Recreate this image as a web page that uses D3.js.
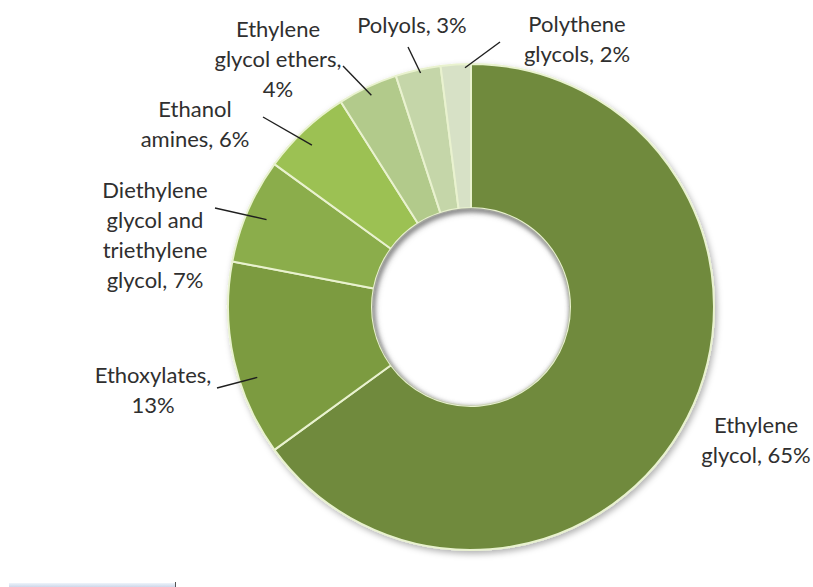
<!DOCTYPE html>
<html>
<head>
<meta charset="utf-8">
<script src="https://cdn.jsdelivr.net/npm/d3@7"></script>
<style>
  html, body { margin: 0; padding: 0; background: #ffffff; }
  svg { display: block; }
  .lbl { font-family: Lato, "Open Sans", sans-serif; font-size: 22px; fill: #2f2f2f; }
</style>
</head>
<body>
<svg id="chart" width="813" height="587"></svg>
<script>
// Ethylene oxide end uses, share of demand (%)
const categories = [
  "Ethylene glycol",
  "Ethoxylates",
  "Diethylene glycol and triethylene glycol",
  "Ethanol amines",
  "Ethylene glycol ethers",
  "Polyols",
  "Polythene glycols"
];
const shares = [65, 13, 7, 6, 4, 3, 2];
const labelLines = [
  ["Ethylene", "glycol, 65%"],
  ["Ethoxylates,", "13%"],
  ["Diethylene", "glycol and", "triethylene", "glycol, 7%"],
  ["Ethanol", "amines, 6%"],
  ["Ethylene", "glycol ethers,", "4%"],
  ["Polyols, 3%"],
  ["Polythene", "glycols, 2%"]
];

// palette: darkest for the biggest slice, lighter going counter-clockwise
const palette = ["#6f8a3d", "#7c9b40", "#8bad4b", "#9cc152", "#b2ca8b", "#c5d6a9", "#d7e1c6"];

// label layout: anchor (centre x, first baseline), leader start, and where
// the leader meets the slice (fraction across the slice, fraction of radius)
const labelLayout = [
  { x: 756, y: 433, lead: null },
  { x: 153, y: 383, lead: [217, 388], t: 0.38, rf: 0.926 },
  { x: 155, y: 198, lead: [215, 208], t: 0.49, rf: 0.915 },
  { x: 195, y: 117, lead: [263, 117], t: 0.44, rf: 0.934 },
  { x: 278, y: 37,  lead: [343, 66],  t: 0.50, rf: 0.963 },
  { x: 412, y: 33,  lead: [408, 47],  t: 0.54, rf: 0.985 },
  { x: 577, y: 32,  lead: [500, 42],  t: 0.80, rf: 0.985 }
];
const lineGap = 30;

const svg = d3.select("#chart");
const cx = 471, cy = 307, R = 243, r0 = 99;

const defs = svg.append("defs");
const shadow = defs.append("filter").attr("id", "shadow")
  .attr("x", "-10%").attr("y", "-10%").attr("width", "125%").attr("height", "125%");
shadow.append("feDropShadow")
  .attr("dx", 2).attr("dy", 3).attr("stdDeviation", 3)
  .attr("flood-color", "#000").attr("flood-opacity", 0.3);

const soft = defs.append("filter").attr("id", "soft");
soft.append("feGaussianBlur").attr("stdDeviation", 2);

defs.append("clipPath").attr("id", "hole")
  .append("circle").attr("cx", cx).attr("cy", cy).attr("r", r0);

const pie = d3.pie().sort(null).value(d => d);
const arcs = pie(shares);
const arc = d3.arc().innerRadius(r0).outerRadius(R);
const color = d3.scaleOrdinal().domain(categories).range(palette);

const g = svg.append("g").attr("transform", `translate(${cx},${cy})`);

g.append("g").attr("filter", "url(#shadow)")
  .selectAll("path")
  .data(arcs)
  .join("path")
  .attr("d", arc)
  .attr("fill", (d, i) => color(categories[i]))
  .attr("stroke", "#e9f2cf")
  .attr("stroke-width", 2)
  .attr("stroke-linejoin", "round");

// inner shadow round the hole
svg.append("g").attr("clip-path", "url(#hole)")
  .append("circle")
  .attr("cx", cx + 1).attr("cy", cy + 2).attr("r", r0 + 1)
  .attr("fill", "none")
  .attr("stroke", "#8a8a8a")
  .attr("stroke-width", 5)
  .attr("filter", "url(#soft)");

// leader lines from each label into its slice
const leaderEnd = (a, L) => {
  const ang = a.startAngle + L.t * (a.endAngle - a.startAngle);
  return [cx + L.rf * R * Math.sin(ang), cy - L.rf * R * Math.cos(ang)];
};
svg.append("g").selectAll("line")
  .data(arcs.map((a, i) => ({ a, L: labelLayout[i] })).filter(d => d.L.lead))
  .join("line")
  .attr("x1", d => d.L.lead[0])
  .attr("y1", d => d.L.lead[1])
  .attr("x2", d => leaderEnd(d.a, d.L)[0])
  .attr("y2", d => leaderEnd(d.a, d.L)[1])
  .attr("stroke", "#1f1f1f")
  .attr("stroke-width", 1.4);

// labels
const labels = svg.append("g").selectAll("text")
  .data(labelLines.map((lines, i) => ({ lines, L: labelLayout[i] })))
  .join("text")
  .attr("class", "lbl")
  .attr("text-anchor", "middle");
labels.each(function (d) {
  d3.select(this).selectAll("tspan")
    .data(d.lines)
    .join("tspan")
    .attr("x", d.L.x)
    .attr("y", (t, j) => d.L.y + j * lineGap)
    .text(t => t);
});

// strip of page frame along the bottom edge
const strip = defs.append("linearGradient").attr("id", "strip")
  .attr("x1", 0).attr("y1", 0).attr("x2", 0).attr("y2", 1);
strip.append("stop").attr("offset", 0).attr("stop-color", "#eef4fb");
strip.append("stop").attr("offset", 1).attr("stop-color", "#cdd8ea");
svg.append("rect").attr("x", 9).attr("y", 583).attr("width", 166).attr("height", 4)
  .attr("fill", "url(#strip)");
svg.append("line").attr("x1", 175.5).attr("x2", 175.5).attr("y1", 582).attr("y2", 587)
  .attr("stroke", "#555").attr("stroke-width", 1);
</script>
</body>
</html>
